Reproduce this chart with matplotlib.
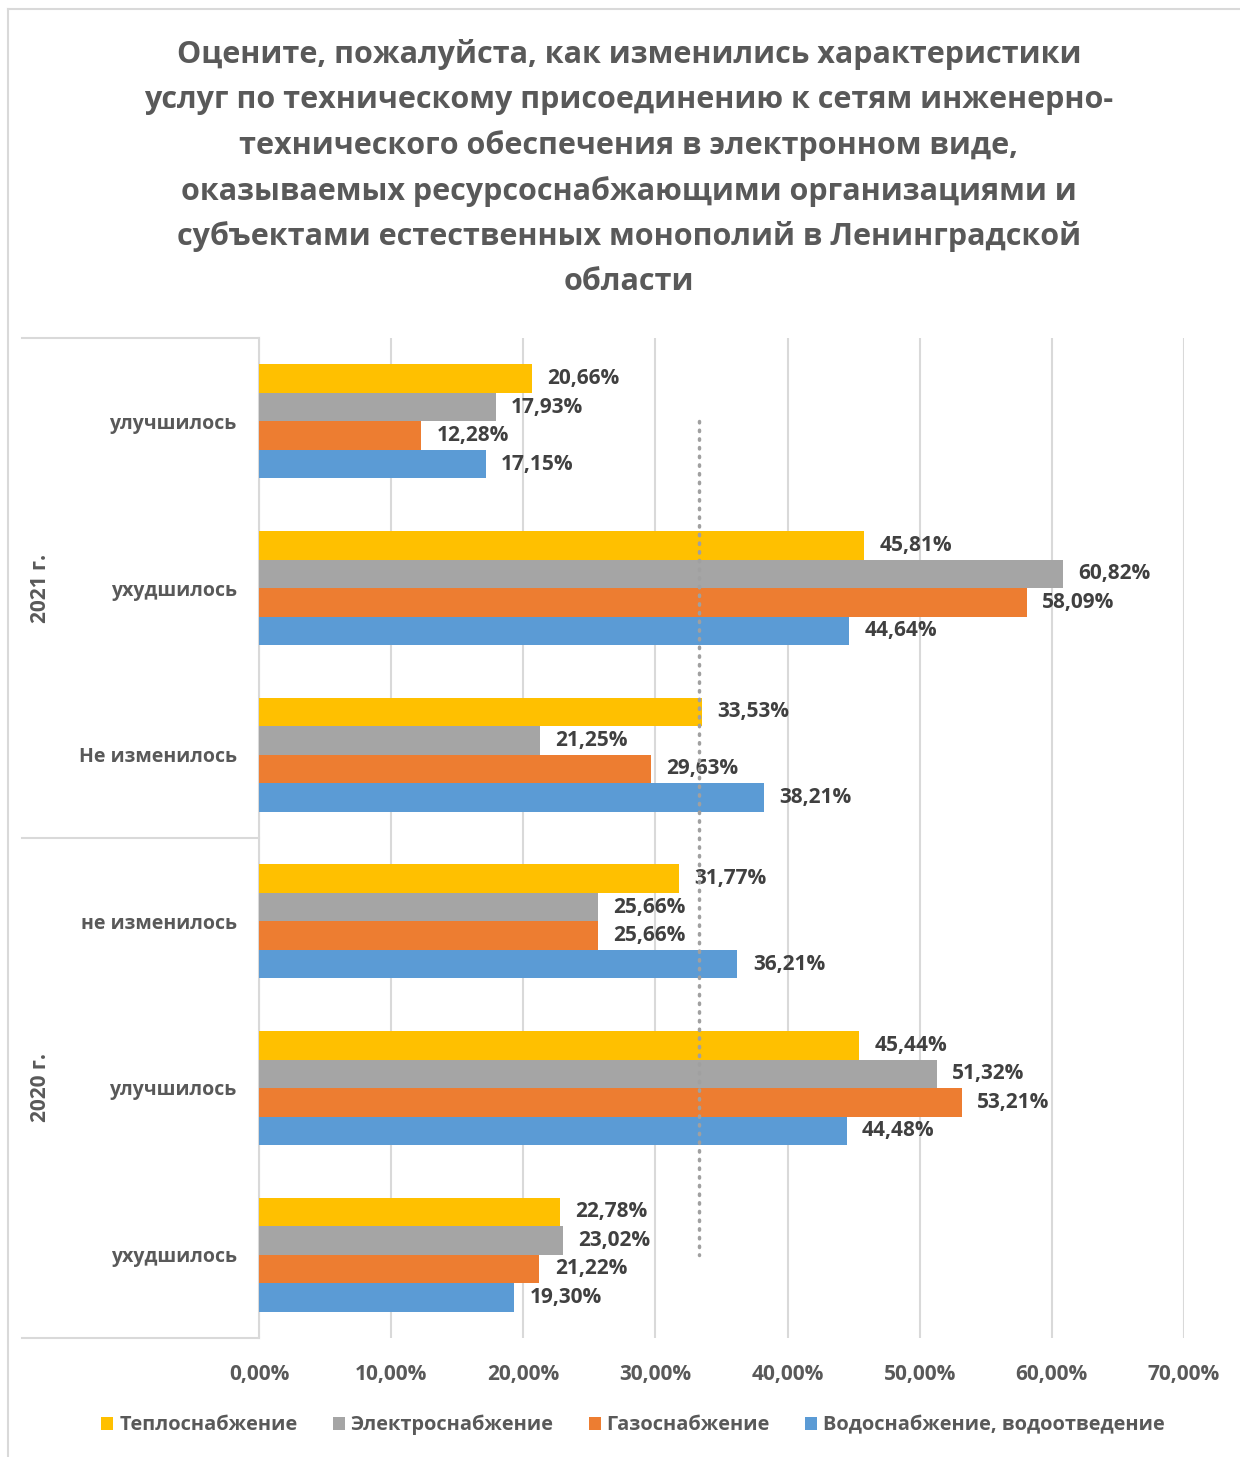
import matplotlib.pyplot as plt
import numpy as np
from matplotlib.patches import Patch
from matplotlib.lines import Line2D
import matplotlib.transforms as mtransforms

plt.rcParams['font.family'] = ['Open Sans', 'DejaVu Sans']

# Данные
categories = ["улучшилось", "ухудшилось", "Не изменилось",
              "не изменилось", "улучшилось", "ухудшилось"]
years = ["2021 г.", "2020 г."]
series_names = ["Теплоснабжение", "Электроснабжение", "Газоснабжение",
                "Водоснабжение, водоотведение"]
teplo = [20.66, 45.81, 33.53, 31.77, 45.44, 22.78]
elektro = [17.93, 60.82, 21.25, 25.66, 51.32, 23.02]
gaz = [12.28, 58.09, 29.63, 25.66, 53.21, 21.22]
voda = [17.15, 44.64, 38.21, 36.21, 44.48, 19.30]
avg_line = 33.33
xticks = [0, 10, 20, 30, 40, 50, 60, 70]

title_lines = [
    "Оцените, пожалуйста, как изменились характеристики",
    "услуг по техническому присоединению к сетям инженерно-",
    "технического обеспечения в электронном виде,",
    "оказываемых ресурсоснабжающими организациями и",
    "субъектами естественных монополий в Ленинградской",
    "области",
]

colors = ["#FFC000", "#A5A5A5", "#ED7D31", "#5B9BD5"]
text_dark = "#404040"
text_gray = "#595959"
grid_c = "#D9D9D9"

W, H = 1240, 1457
fig = plt.figure(figsize=(W / 100, H / 100), dpi=100)
ax = fig.add_axes([259 / W, 1 - 1338 / H, (1184 - 259) / W, (1338 - 338) / H])

# рамка диаграммы
fig.add_artist(Line2D([8 / W, 8 / W], [0, 1 - 9 / H], color=grid_c, lw=1.5))
fig.add_artist(Line2D([8 / W, 1], [1 - 9 / H, 1 - 9 / H], color=grid_c, lw=1.5))

# заголовок
for i, line in enumerate(title_lines):
    fig.text(629 / W, 1 - (55 + i * 45.4) / H, line, ha="center", va="center",
             fontsize=22, fontweight="bold", color=text_gray)

y = np.arange(len(categories))
h = 0.171
all_series = [teplo, elektro, gaz, voda]
for i, vals in enumerate(all_series):
    bars = ax.barh(y + (i - 1.5) * h, vals, height=h, color=colors[i],
                   label=series_names[i], zorder=3)
    ax.bar_label(bars, labels=[f"{v:.2f}%".replace(".", ",") for v in vals],
                 padding=11, fontsize=15, fontweight="bold", color=text_dark)

ax.plot([avg_line, avg_line], [0, len(categories) - 1], color="#A0A0A0",
        lw=2.5, linestyle=(0, (0.4, 2.1)), dash_capstyle="round", zorder=4)

ax.set_xlim(0, 70)
ax.set_ylim(len(categories) - 0.5, -0.5)
ax.set_xticks(xticks)
ax.set_xticklabels([f"{t:.2f}%".replace(".", ",") for t in xticks])
ax.set_yticks(y)
ax.set_yticklabels(categories)
ax.tick_params(axis="x", length=0, pad=19, labelsize=15, labelcolor=text_gray)
ax.tick_params(axis="y", length=0, pad=16, labelsize=14, labelcolor=text_gray)
for lab in ax.get_xticklabels() + ax.get_yticklabels():
    lab.set_fontweight("bold")

ax.grid(axis="x", color=grid_c, lw=1.5, zorder=0)
for s in ["top", "right", "bottom"]:
    ax.spines[s].set_visible(False)
ax.spines["left"].set_color(grid_c)
ax.spines["left"].set_linewidth(1.5)

# многоуровневая ось категорий
trans = mtransforms.blended_transform_factory(ax.transAxes, ax.transData)
x0 = (22 - 259) / (1184 - 259)
for yy in [-0.5, 2.5, 5.5]:
    ax.plot([x0, 0], [yy, yy], color=grid_c, lw=1.5, transform=trans, clip_on=False)
xt = (40 - 259) / (1184 - 259)
for k, yr in enumerate(years):
    ax.text(xt, 1 + 3 * k, yr, rotation=90, ha="center", va="center",
            fontsize=15, fontweight="bold", color=text_gray, transform=trans)

handles = [Patch(facecolor=c, edgecolor="none") for c in colors]
fig.legend(handles, series_names, loc="center", bbox_to_anchor=(633 / W, 1 - 1425 / H),
           ncol=4, frameon=False, handlelength=0.6, handleheight=0.6,
           handletextpad=0.3, columnspacing=1.75,
           prop={"size": 14.4, "weight": "bold"}, labelcolor=text_gray)

fig.savefig("out.png", dpi=100)
